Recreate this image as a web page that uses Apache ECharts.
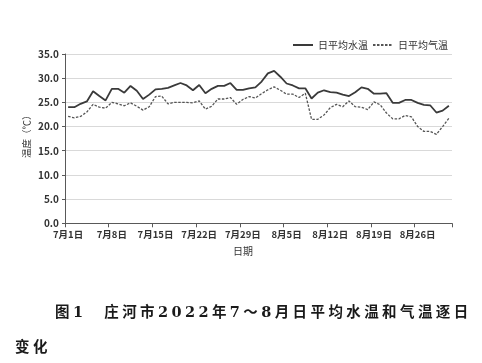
<!DOCTYPE html>
<html>
<head>
<meta charset="utf-8">
<script src="https://cdn.jsdelivr.net/npm/echarts@6/dist/echarts.min.js"></script>
<style>
  html, body { margin: 0; padding: 0; background: #fff; }
  #wrap { position: relative; width: 482px; height: 363px; overflow: hidden; }
  #chart { position: absolute; left: 0; top: 0; width: 482px; height: 363px; }
  #caption {
    position: absolute; left: 15px; top: 294px; width: 470px;
    font-family: "DejaVu Serif", "Noto Sans CJK SC", serif;
    font-weight: bold; font-size: 14.5px; letter-spacing: 3.4px;
    line-height: 35px; color: #1a1a1a; white-space: nowrap;
  }
</style>
</head>
<body>
<div id="wrap">
  <div id="chart"></div>
  <div id="caption"><span style="padding-left:40px">图1　庄河市2022年7～8月日平均水温和气温逐日</span><br>变化</div>
</div>
<script>
// Dates: 7月1日 .. 8月31日
const dates = [];
for (let d = 1; d <= 31; d++) dates.push('7月' + d + '日');
for (let d = 1; d <= 31; d++) dates.push('8月' + d + '日');

const seriesNames = ['日平均水温', '日平均气温'];

const waterTemp = [
  24.0, 24.0, 24.7, 25.2, 27.3, 26.3, 25.4, 27.8, 27.8, 27.0,
  28.4, 27.4, 25.7, 26.6, 27.7, 27.8, 28.0, 28.5, 29.0, 28.5,
  27.5, 28.6, 26.9, 27.8, 28.4, 28.4, 29.0, 27.6, 27.6, 27.9,
  28.1, 29.3, 31.0, 31.5, 30.3, 28.9, 28.5, 27.9, 27.9, 25.8,
  27.0, 27.5, 27.1, 27.0, 26.6, 26.3, 27.1, 28.1, 27.8, 26.8,
  26.8, 26.9, 24.9, 24.9, 25.5, 25.5, 24.9, 24.5, 24.4, 22.9,
  23.3, 24.3
];

const airTemp = [
  22.1, 21.8, 22.1, 23.0, 24.6, 24.0, 23.8, 25.0, 24.7, 24.3,
  24.9, 24.2, 23.4, 24.1, 26.2, 26.3, 24.7, 25.0, 25.0, 25.0,
  24.9, 25.3, 23.6, 24.2, 25.7, 25.7, 26.0, 24.6, 25.6, 26.2,
  25.9, 26.8, 27.6, 28.2, 27.5, 26.7, 26.7, 26.0, 26.9, 21.5,
  21.5, 22.4, 23.9, 24.6, 24.1, 25.3, 24.1, 24.0, 23.5, 25.1,
  24.5, 22.8, 21.6, 21.6, 22.3, 22.0, 20.0, 19.0, 19.0, 18.4,
  20.0, 21.7
];

const yMin = 0, yMax = 35, yStep = 5;

const chart = echarts.init(document.getElementById('chart'), null, { renderer: 'canvas' });
const fontFam = '"Noto Sans CJK SC", "Noto Sans", sans-serif';
chart.setOption({
  backgroundColor: '#ffffff',
  animation: false,
  textStyle: { fontFamily: fontFam },
  legend: {
    right: 29, top: 35,
    itemWidth: 20, itemHeight: 10, itemGap: 4,
    itemStyle: { opacity: 0 },
    textStyle: { fontSize: 10, color: '#333', fontFamily: fontFam },
    data: seriesNames
  },
  grid: { left: 65, right: 30, top: 54, height: 169.3, containLabel: false },
  xAxis: {
    type: 'category',
    data: dates,
    boundaryGap: true,
    name: '日期',
    nameLocation: 'middle',
    nameGap: 23,
    nameMoveOverlap: false,
    nameTextStyle: { fontSize: 10, color: '#333', padding: [0, 31, 0, 0], fontFamily: fontFam },
    axisLine: { lineStyle: { color: '#595959', width: 1 } },
    axisTick: { show: true, interval: 6, length: 4, lineStyle: { color: '#595959' } },
    axisLabel: { interval: 6, fontSize: 9.5, color: '#333', fontWeight: 'bold', margin: 6, fontFamily: fontFam },
    splitLine: { show: false }
  },
  yAxis: {
    type: 'value',
    min: yMin, max: yMax, interval: yStep,
    name: '温度（℃）',
    nameLocation: 'middle',
    nameRotate: 90,
    nameGap: 34,
    nameMoveOverlap: false,
    nameTextStyle: { fontSize: 9.5, color: '#333', padding: [0, 0, 0, 9], fontFamily: fontFam },
    axisLine: { show: true, lineStyle: { color: '#595959', width: 1 } },
    axisTick: { show: true, length: 3, lineStyle: { color: '#595959' } },
    axisLabel: { formatter: v => v.toFixed(1), fontSize: 10, color: '#333', fontWeight: 'bold', margin: 6, fontFamily: fontFam },
    splitLine: { show: true, lineStyle: { color: '#d9d9d9', width: 1 } }
  },
  series: [
    {
      name: seriesNames[0], type: 'line', data: waterTemp,
      symbol: 'none', smooth: false,
      lineStyle: { color: '#3a3a3a', width: 1.8, type: 'solid' },
      itemStyle: { color: '#3a3a3a' }
    },
    {
      name: seriesNames[1], type: 'line', data: airTemp,
      symbol: 'none', smooth: false,
      lineStyle: { color: '#555555', width: 1.3, type: [2.5, 1.5] },
      itemStyle: { color: '#555555' }
    }
  ]
});
</script>
</body>
</html>
